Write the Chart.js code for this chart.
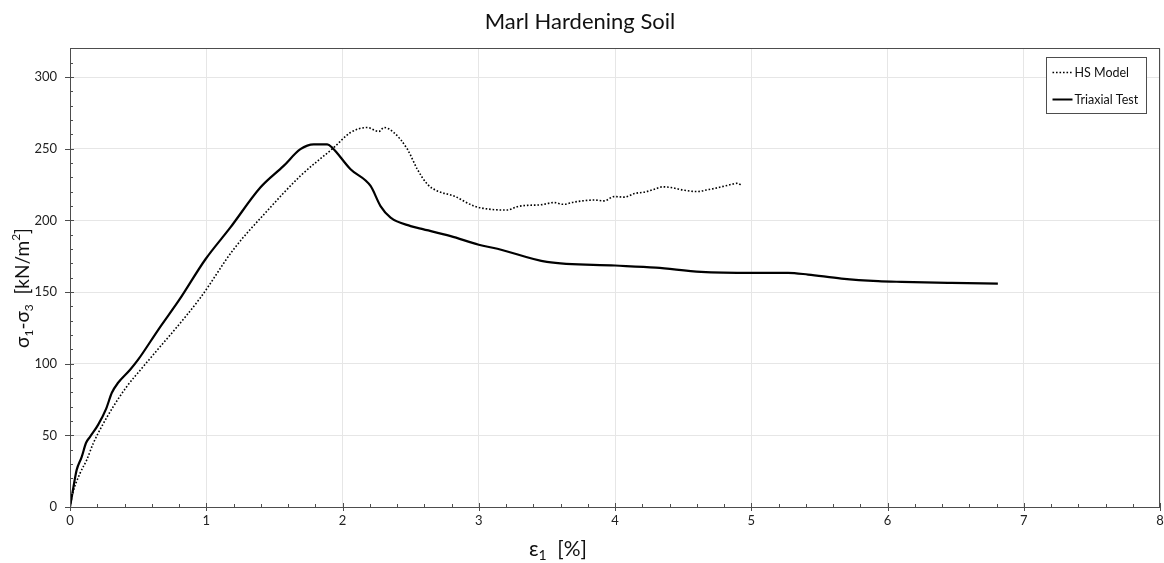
<!DOCTYPE html>
<html>
<head>
<meta charset="utf-8">
<script src="https://cdn.jsdelivr.net/npm/chart.js@4/dist/chart.umd.min.js"></script>
<style>
  html, body { margin: 0; padding: 0; background: #ffffff; }
  #wrap { width: 1164px; height: 563px; }
</style>
</head>
<body>
<div id="wrap"><canvas id="c" width="1164" height="563"></canvas></div>
<script>
// Axial strain ε1 [%] and deviator stress σ1-σ3 [kN/m²]
const triaxialStrain = [0, 0.02, 0.037, 0.049, 0.086, 0.118, 0.147, 0.206, 0.265, 0.307, 0.353, 0.441, 0.5, 0.65,
  0.804, 0.993, 1.176, 1.397, 1.568, 1.691, 1.789, 1.888, 1.924, 2.059, 2.206, 2.279, 2.353, 2.5, 2.574, 2.794,
  3.0, 3.137, 3.5, 4.0, 4.3, 4.632, 5.013, 5.27, 5.417, 5.662, 5.931, 6.103, 6.47, 6.81];
const triaxialStress = [0, 11, 20.3, 25.9, 35, 44.8, 49, 57.3, 68.5, 79.7, 86.7, 95.8, 102.8, 124,
  144.8, 172.7, 194.9, 222.9, 238, 249.7, 253.1, 253.1, 250.8, 235.7, 224, 210, 201.9, 196, 194.2, 189,
  183, 180.2, 171, 168.5, 167, 164.1, 163.4, 163.4, 162.2, 159.4, 157.6, 157.1, 156.4, 155.9];

const hsStrain = [0, 0.02, 0.074, 0.123, 0.171, 0.233, 0.318, 0.417, 0.539, 0.956, 1.2, 1.446, 1.691, 1.936,
  2.059, 2.181, 2.267, 2.304, 2.377, 2.476, 2.549, 2.623, 2.696, 2.818, 2.965, 3.088, 3.211, 3.28, 3.358,
  3.45, 3.554, 3.62, 3.701, 3.848, 3.92, 3.995, 4.07, 4.142, 4.22, 4.289, 4.35, 4.412, 4.51, 4.608, 4.67,
  4.727, 4.829, 4.902, 4.926];
const hsStress = [0, 9.6, 23.6, 32.9, 44.5, 56.2, 70.1, 84.1, 98.1, 145.9, 179.7, 206.5, 231, 250.8,
  261.3, 264.8, 262, 264.8, 261.3, 249.7, 235.7, 225.2, 220.5, 217, 210, 207.7, 207.2, 209.5, 210.5,
  210.8, 212.4, 211.2, 212.8, 214.2, 213.6, 216.6, 216.2, 218.7, 219.8, 221.7, 223.4, 222.9, 221, 220.1, 221.2,
  222.2, 224.5, 225.9, 224.5];

const xTickValues = [0, 1, 2, 3, 4, 5, 6, 7, 8];
const yTickValues = [0, 50, 100, 150, 200, 250, 300];
const seriesNames = ['HS Model', 'Triaxial Test'];

const FONT = "Lato, 'Open Sans', sans-serif";
const AXIS = '#4d4d4d';
const HS_DASH = [1.6, 1.9];

const toPoints = (xs, ys) => xs.map((v, i) => ({ x: v, y: ys[i] }));

// Axis titles drawn with true sub/superscripts
function drawRich(ctx, parts, size) {
  let w = 0;
  const m = parts.map(p => {
    ctx.font = (p.sub || p.sup ? Math.round(size * 0.65) : size) + 'px ' + FONT;
    const pw = ctx.measureText(p.t).width;
    w += pw;
    return pw;
  });
  let cx = -w / 2;
  parts.forEach((p, i) => {
    const fs = p.sub || p.sup ? Math.round(size * 0.65) : size;
    ctx.font = fs + 'px ' + FONT;
    const dy = p.sub ? size * 0.3 : p.sup ? -size * 0.38 : 0;
    ctx.fillText(p.t, cx, dy);
    cx += m[i];
  });
}

const decorations = {
  id: 'decorations',
  afterDraw(chart) {
    const { ctx, chartArea: a, scales: { x, y } } = chart;
    ctx.save();
    // frame
    ctx.strokeStyle = AXIS;
    ctx.lineWidth = 1;
    ctx.strokeRect(Math.round(a.left) + 0.5, Math.round(a.top) + 0.5,
      Math.round(a.right - a.left) - 1, Math.round(a.bottom - a.top));
    // x ticks (major every 1, minor every 0.2)
    ctx.beginPath();
    for (let i = 0; i <= 40; i++) {
      const px = Math.round(x.getPixelForValue(i * 0.2)) + 0.5;
      if (i % 5 === 0) { ctx.moveTo(px, a.bottom - 4); ctx.lineTo(px, a.bottom + 4); }
      else { ctx.moveTo(px, a.bottom - 3); ctx.lineTo(px, a.bottom); }
    }
    // y ticks (major every 50, minor every 10)
    for (let v = 0; v <= 320; v += 10) {
      const py = Math.round(y.getPixelForValue(v)) + 0.5;
      if (v % 50 === 0) { ctx.moveTo(a.left - 5, py); ctx.lineTo(a.left + 4, py); }
      else { ctx.moveTo(a.left, py); ctx.lineTo(a.left + 3, py); }
    }
    ctx.stroke();

    // legend
    const bx = Math.round(a.right) - 113.5, by = Math.round(a.top) + 9.5, bw = 100, bh = 56;
    ctx.fillStyle = '#ffffff';
    ctx.fillRect(bx, by, bw, bh);
    ctx.strokeStyle = AXIS;
    ctx.strokeRect(bx, by, bw, bh);
    ctx.strokeStyle = '#000000';
    ctx.lineWidth = 1.6;
    ctx.setLineDash(HS_DASH);
    ctx.beginPath(); ctx.moveTo(bx + 6, by + 15); ctx.lineTo(bx + 26, by + 15); ctx.stroke();
    ctx.setLineDash([]);
    ctx.lineWidth = 2;
    ctx.beginPath(); ctx.moveTo(bx + 6, by + 42); ctx.lineTo(bx + 26, by + 42); ctx.stroke();
    ctx.fillStyle = '#111111';
    ctx.font = '12.5px ' + FONT;
    ctx.textBaseline = 'middle';
    ctx.textAlign = 'left';
    ctx.fillText(seriesNames[0], bx + 28, by + 15);
    ctx.fillText(seriesNames[1], bx + 28, by + 42);

    // axis titles
    ctx.fillStyle = '#111111';
    ctx.textBaseline = 'middle';
    ctx.save();
    ctx.translate(558, 549);
    drawRich(ctx, [{ t: 'ε' }, { t: '1', sub: true }, { t: '  [%]' }], 21);
    ctx.restore();
    ctx.save();
    ctx.translate(23, 288);
    ctx.rotate(-Math.PI / 2);
    drawRich(ctx, [{ t: 'σ' }, { t: '1', sub: true }, { t: '-σ' }, { t: '3', sub: true },
      { t: '  [kN/m' }, { t: '2', sup: true }, { t: ']' }], 19);
    ctx.restore();
    ctx.restore();
  }
};

new Chart(document.getElementById('c'), {
  type: 'scatter',
  data: {
    datasets: [
      {
        label: seriesNames[0],
        data: toPoints(hsStrain, hsStress),
        showLine: true,
        borderColor: '#000000',
        borderWidth: 1.6,
        borderDash: HS_DASH,
        pointRadius: 0,
        cubicInterpolationMode: 'monotone'
      },
      {
        label: seriesNames[1],
        data: toPoints(triaxialStrain, triaxialStress),
        showLine: true,
        borderColor: '#000000',
        borderWidth: 2.2,
        pointRadius: 0,
        cubicInterpolationMode: 'monotone'
      }
    ]
  },
  options: {
    responsive: false,
    animation: false,
    layout: { padding: { left: 0, right: 4, top: 0, bottom: 0 } },
    plugins: {
      legend: { display: false },
      tooltip: { enabled: false },
      title: {
        display: true,
        text: 'Marl Hardening Soil',
        color: '#111111',
        font: { family: FONT, size: 22, weight: 'normal' },
        padding: { top: 9, bottom: 13 }
      }
    },
    scales: {
      x: {
        type: 'linear',
        min: 0, max: 8,
        afterBuildTicks: s => { s.ticks = xTickValues.map(v => ({ value: v })); },
        afterFit: s => { s.height = 56; s.paddingLeft = 0; s.paddingRight = 0; },
        ticks: { color: '#222222', font: { family: FONT, size: 13 }, padding: 6, maxRotation: 0 },
        grid: { color: '#e6e6e6', drawTicks: false },
        border: { display: false }
      },
      y: {
        type: 'linear',
        min: 0, max: 320,
        afterBuildTicks: s => { s.ticks = yTickValues.map(v => ({ value: v })); },
        afterFit: s => { s.width = 70; s.paddingTop = 0; s.paddingBottom = 0; },
        ticks: { color: '#222222', font: { family: FONT, size: 13 }, padding: 13 },
        grid: { color: '#e6e6e6', drawTicks: false },
        border: { display: false }
      }
    }
  },
  plugins: [decorations]
});
</script>
</body>
</html>
